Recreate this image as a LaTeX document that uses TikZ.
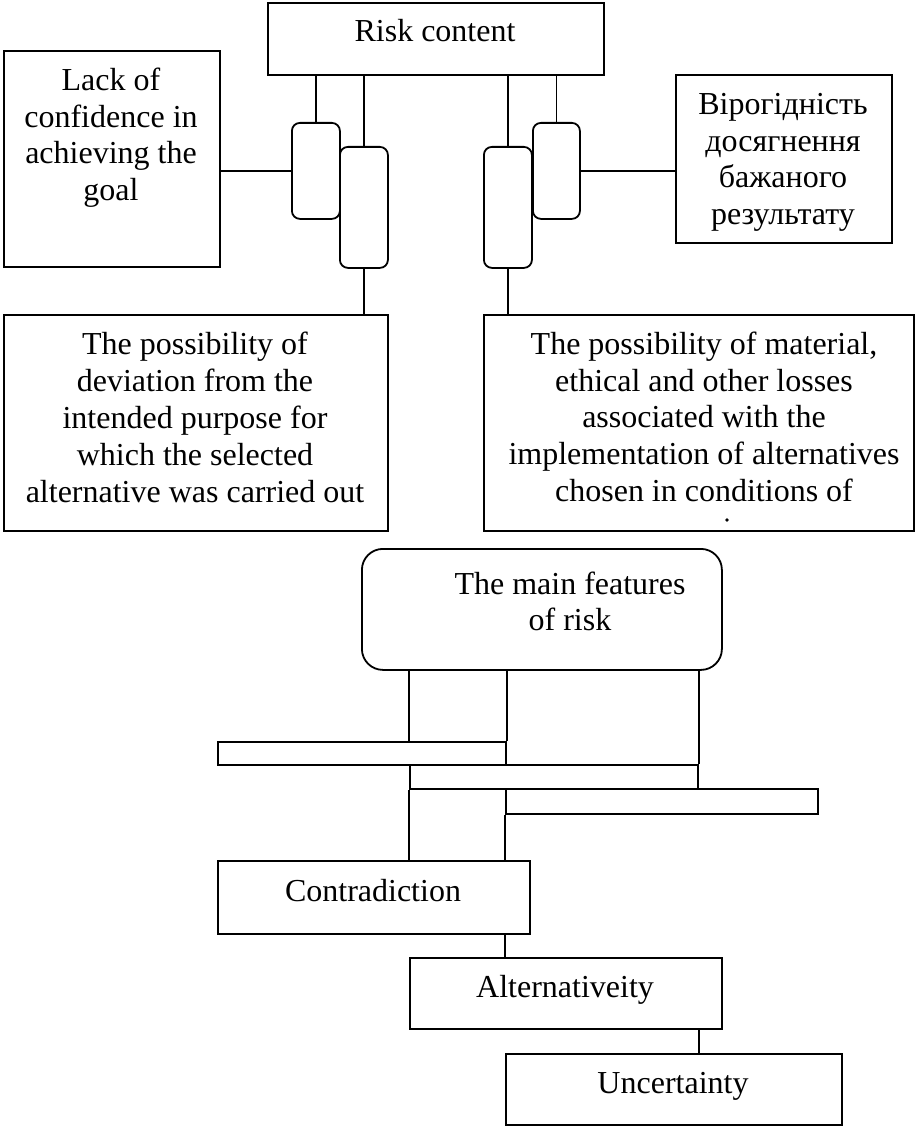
\documentclass[tikz,border=0pt]{standalone}
\usepackage{fontspec}
\setmainfont{Liberation Serif}
\begin{document}
\begin{tikzpicture}[x=1pt,y=-1pt,
  frame/.style={draw, line width=1.8pt, inner sep=0pt, anchor=north west},
  pill/.style={frame, rounded corners=8pt},
  bigpill/.style={frame, rounded corners=21pt},
  words/.style={inner sep=0pt, align=center, font=\fontsize{32}{36.8}\selectfont},
  link/.style={line width=1.8pt}]
\useasboundingbox (0,0) rectangle (915,1126);

% upper part: risk content and its two groups
\node[frame, minimum width=336pt, minimum height=72pt] (rc) at (267,2) {};
\node[frame, minimum width=216pt, minimum height=216pt] (lack) at (3,50) {};
\node[frame, minimum width=216pt, minimum height=168pt] (ukr) at (675,74) {};
\node[pill, minimum width=48pt, minimum height=96pt] (s1) at (291,122) {};
\node[pill, minimum width=48pt, minimum height=121pt] (s2) at (339,146) {};
\node[pill, minimum width=48pt, minimum height=121pt] (s4) at (483,146) {};
\node[pill, minimum width=47pt, minimum height=96pt] (s3) at (532,122) {};
\node[frame, minimum width=384pt, minimum height=216pt] (p1) at (3,314) {};
\node[frame, minimum width=430pt, minimum height=216pt] (p2) at (483,314) {};

\node[words] (rc-t) at (435,34.6) {\strut Risk content};
\node[words] (lack-t) at (111,138.1) {\strut Lack of\\\strut confidence in\\\strut achieving the\\\strut goal};
\node[words] (ukr-t) at (783,162.1) {\strut Вірогідність\\\strut досягнення\\\strut бажаного\\\strut результату};
\node[words] (p1-t) at (195,421.1) {\strut The possibility of\\\strut deviation from the\\\strut intended purpose for\\\strut which the selected\\\strut alternative was carried out};
\node[words] (p2-t) at (704,420.6) {\strut The possibility of material,\\\strut ethical and other losses\\\strut associated with the\\\strut implementation of alternatives\\\strut chosen in conditions of};
\fill (727,520) circle (1.8pt);

\draw[link] (s1.north) -- (s1.north |- rc.south);
\draw[link] (s2.north) -- (s2.north |- rc.south);
\draw[link] (s4.north) -- (s4.north |- rc.south);
\draw[link] (s3.north) -- (s3.north |- rc.south);
\draw[link] (s1.west -| lack.east) -- (s1.west);
\draw[link] (s3.east) -- (s3.east -| ukr.west);
\draw[link] (s2.south) -- (s2.south |- p1.north);
\draw[link] (s4.south) -- (s4.south |- p2.north);

% lower part: the main features of risk
\node[bigpill, minimum width=360pt, minimum height=121pt] (mf) at (361,548) {};
\node[frame, minimum width=288pt, minimum height=23pt] (b1) at (217,741) {};
\node[frame, minimum width=288pt, minimum height=24pt] (b2) at (409,764) {};
\node[frame, minimum width=312pt, minimum height=25pt] (b3) at (505,788) {};
\node[frame, minimum width=312pt, minimum height=73pt] (con) at (217,860) {};
\node[frame, minimum width=312pt, minimum height=71pt] (alt) at (409,957) {};
\node[frame, minimum width=336pt, minimum height=71pt] (unc) at (505,1053) {};

\node[words] (mf-t) at (570,605.1) {\strut The main features\\\strut of risk};
\node[words] (con-t) at (373,894.6) {\strut Contradiction};
\node[words] (alt-t) at (565,990.6) {\strut Alternativeity};
\node[words] (unc-t) at (673,1086.6) {\strut Uncertainty};

\draw[link] (mf.south -| b2.west) -- (b2.west |- b1.north);
\draw[link] (mf.south -| b1.east) -- (b1.north east);
\draw[link] (mf.south -| b2.east) -- (b2.north east);
\draw[link] (b2.south west) -- (b2.south west |- con.north);
\draw[link] (b3.south west) -- (b3.south west |- con.north);
\draw[link] (con.south -| b3.west) -- (alt.north -| b3.west);
\draw[link] (alt.south -| b2.east) -- (unc.north -| b2.east);
\end{tikzpicture}
\end{document}
